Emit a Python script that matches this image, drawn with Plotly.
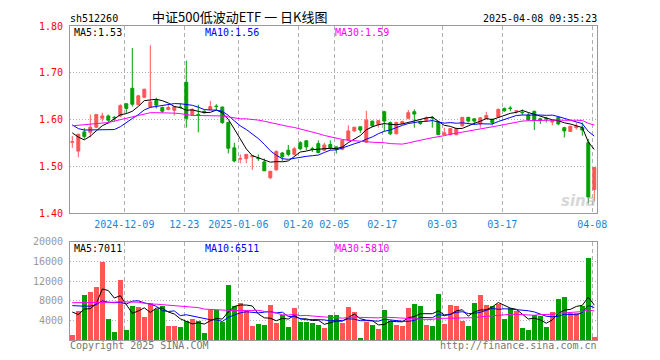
import plotly.graph_objects as go
import pandas as pd

# ---------------- data ----------------
dates = [
    "2024-11-26", "2024-11-27", "2024-11-28", "2024-11-29", "2024-12-02", "2024-12-03", "2024-12-04", "2024-12-05",
    "2024-12-06", "2024-12-09", "2024-12-10", "2024-12-11", "2024-12-12", "2024-12-13", "2024-12-16", "2024-12-17",
    "2024-12-18", "2024-12-19", "2024-12-20", "2024-12-23", "2024-12-24", "2024-12-25", "2024-12-26", "2024-12-27",
    "2024-12-30", "2024-12-31", "2025-01-02", "2025-01-03", "2025-01-06", "2025-01-07", "2025-01-08", "2025-01-09",
    "2025-01-10", "2025-01-13", "2025-01-14", "2025-01-15", "2025-01-16", "2025-01-17", "2025-01-20", "2025-01-21",
    "2025-01-22", "2025-01-23", "2025-01-24", "2025-01-27", "2025-02-05", "2025-02-06", "2025-02-07", "2025-02-10",
    "2025-02-11", "2025-02-12", "2025-02-13", "2025-02-14", "2025-02-17", "2025-02-18", "2025-02-19", "2025-02-20",
    "2025-02-21", "2025-02-24", "2025-02-25", "2025-02-26", "2025-02-27", "2025-02-28", "2025-03-03", "2025-03-04",
    "2025-03-05", "2025-03-06", "2025-03-07", "2025-03-10", "2025-03-11", "2025-03-12", "2025-03-13", "2025-03-14",
    "2025-03-17", "2025-03-18", "2025-03-19", "2025-03-20", "2025-03-21", "2025-03-24", "2025-03-25", "2025-03-26",
    "2025-03-27", "2025-03-28", "2025-03-31", "2025-04-01", "2025-04-02", "2025-04-03", "2025-04-07", "2025-04-08",
]

opens = [
    1.552, 1.533, 1.574, 1.573, 1.584, 1.603, 1.608, 1.605, 1.608, 1.634,
    1.667, 1.632, 1.648, 1.627, 1.641, 1.626, 1.622, 1.620, 1.627, 1.680,
    1.611, 1.611, 1.618, 1.622, 1.629, 1.627, 1.594, 1.540, 1.516, 1.517,
    1.521, 1.518, 1.510, 1.476, 1.493, 1.529, 1.535, 1.526, 1.551, 1.555,
    1.538, 1.549, 1.535, 1.547, 1.542, 1.537, 1.556, 1.576, 1.585, 1.552,
    1.597, 1.590, 1.617, 1.594, 1.570, 1.592, 1.603, 1.617, 1.596, 1.598,
    1.605, 1.595, 1.568, 1.568, 1.568, 1.587, 1.605, 1.602, 1.591, 1.602,
    1.601, 1.606, 1.624, 1.625, 1.618, 1.616, 1.610, 1.618, 1.602, 1.603,
    1.595, 1.605, 1.583, 1.575, 1.583, 1.583, 1.551, 1.451,
]
highs = [
    1.565, 1.569, 1.582, 1.611, 1.612, 1.615, 1.611, 1.608, 1.633, 1.635,
    1.753, 1.653, 1.666, 1.759, 1.647, 1.628, 1.631, 1.628, 1.635, 1.726,
    1.624, 1.632, 1.620, 1.640, 1.633, 1.628, 1.596, 1.551, 1.526, 1.526,
    1.524, 1.526, 1.517, 1.490, 1.535, 1.531, 1.546, 1.542, 1.554, 1.556,
    1.542, 1.556, 1.551, 1.556, 1.543, 1.557, 1.588, 1.585, 1.585, 1.619,
    1.598, 1.599, 1.619, 1.596, 1.596, 1.598, 1.621, 1.622, 1.598, 1.607,
    1.608, 1.597, 1.583, 1.582, 1.583, 1.605, 1.606, 1.602, 1.606, 1.617,
    1.602, 1.624, 1.626, 1.629, 1.619, 1.622, 1.616, 1.619, 1.604, 1.606,
    1.599, 1.606, 1.585, 1.587, 1.594, 1.594, 1.559, 1.499,
]
lows = [
    1.540, 1.520, 1.559, 1.562, 1.582, 1.596, 1.592, 1.596, 1.606, 1.613,
    1.628, 1.631, 1.646, 1.626, 1.624, 1.615, 1.620, 1.609, 1.624, 1.583,
    1.609, 1.573, 1.613, 1.620, 1.620, 1.591, 1.528, 1.509, 1.507, 1.507,
    1.493, 1.512, 1.490, 1.474, 1.491, 1.512, 1.522, 1.524, 1.535, 1.535,
    1.531, 1.528, 1.533, 1.536, 1.528, 1.535, 1.554, 1.574, 1.572, 1.551,
    1.584, 1.583, 1.575, 1.567, 1.569, 1.590, 1.601, 1.583, 1.589, 1.595,
    1.583, 1.567, 1.567, 1.567, 1.567, 1.585, 1.594, 1.589, 1.583, 1.601,
    1.588, 1.604, 1.617, 1.618, 1.613, 1.610, 1.598, 1.578, 1.591, 1.594,
    1.588, 1.588, 1.562, 1.574, 1.579, 1.566, 1.421, 1.426,
]
closes = [
    1.553, 1.569, 1.564, 1.584, 1.611, 1.608, 1.599, 1.604, 1.630, 1.624,
    1.633, 1.651, 1.665, 1.638, 1.631, 1.618, 1.626, 1.628, 1.626, 1.603,
    1.622, 1.610, 1.615, 1.628, 1.628, 1.594, 1.539, 1.512, 1.517, 1.526,
    1.523, 1.517, 1.491, 1.490, 1.532, 1.521, 1.526, 1.538, 1.538, 1.542,
    1.537, 1.530, 1.546, 1.540, 1.537, 1.556, 1.576, 1.584, 1.578, 1.599,
    1.587, 1.598, 1.597, 1.570, 1.594, 1.596, 1.615, 1.612, 1.592, 1.604,
    1.604, 1.568, 1.572, 1.581, 1.581, 1.605, 1.597, 1.597, 1.604, 1.609,
    1.594, 1.622, 1.619, 1.624, 1.619, 1.615, 1.600, 1.599, 1.599, 1.602,
    1.599, 1.591, 1.576, 1.586, 1.586, 1.578, 1.435, 1.498,
]
volumes = [
    1000, 6000, 9200, 9900, 10900, 16000, 4400, 1600, 12200, 2000,
    7000, 6800, 4800, 7500, 6400, 7000, 2800, 2800, 2600, 3800,
    4400, 4000, 1400, 6100, 6100, 3700, 11300, 7000, 7600, 6000,
    2800, 3200, 3000, 7200, 3400, 5200, 2600, 6600, 3600, 3600,
    3400, 3000, 2400, 5200, 5200, 3500, 6700, 5800, 500, 3700,
    3100, 2300, 6200, 4000, 3100, 2900, 6500, 7400, 6900, 3100,
    2900, 9400, 3300, 7200, 6900, 4000, 2900, 7600, 9100, 7200,
    6900, 7400, 4400, 6600, 6000, 2400, 2000, 5200, 4900, 2600,
    5800, 8400, 8800, 5600, 5600, 6900, 16800, 600,
]

# moving-average values for the first bars (their windows reach back before the visible range)
ma5_head = [1.572, 1.563, 1.557, 1.565]
ma10_head = [1.589, 1.581, 1.578, 1.578, 1.578, 1.578, 1.578, 1.579, 1.585]
ma30_head = [1.587, 1.588, 1.590, 1.591, 1.592, 1.593, 1.594, 1.597, 1.600, 1.603,
             1.607, 1.610, 1.613, 1.615, 1.615, 1.615, 1.615, 1.614, 1.613, 1.611,
             1.609, 1.609, 1.609, 1.609, 1.609, 1.608, 1.606, 1.604, 1.602]
vma5_head = [5700, 5200, 6300, 6400]
vma10_head = [7000, 6900, 6900, 6900, 7200, 8000, 7700, 7600, 7700]
vma30_head = [7600, 7600, 7650, 7700, 7700, 7700, 7700, 7700, 7800, 7800,
              7800, 7700, 7500, 7300, 7300, 7200, 7100, 6900, 6800, 6800,
              6700, 6600, 6300, 6200, 6100, 6100, 6050, 6000, 6000]

tick_labels = ["2024-12-09", "12-23", "2025-01-06", "01-20", "02-05", "02-17", "03-03", "03-17", "04-08"]
price_ticks = [1.40, 1.50, 1.60, 1.70, 1.80]
vol_ticks = [4000, 8000, 12000, 16000, 20000]

code = "sh512260"
title = "中证500低波动ETF 一 日K线图"
stamp = "2025-04-08 09:35:23"
ma_price_text = ["MA5:1.53", "MA10:1.56", "MA30:1.59"]
ma_vol_text = ["MA5:7011", "MA10:6511", "MA30:5810"]

# ---------------- helpers ----------------
def moving(values, n, head):
    s = pd.Series(values, dtype=float).rolling(n).mean().tolist()
    return list(head) + s[len(head):]

idx = list(range(len(dates)))
ma5 = moving(closes, 5, ma5_head)
ma10 = moving(closes, 10, ma10_head)
ma30 = moving(closes, 30, ma30_head)
vma5 = moving(volumes, 5, vma5_head)
vma10 = moving(volumes, 10, vma10_head)
vma30 = moving(volumes, 30, vma30_head)

RED = "#ff5555"
GREEN = "#00a000"
MONO = "DejaVu Sans Mono"
GRID = "#b0b0b0"
BORDER = "#999999"

# the page body adds an 8px offset; the figure is sized so that it fills the 660x360 window
OFF = 8
W, H = 660 - OFF, 360 - OFF
PLOT_L, PLOT_R, PLOT_T, PLOT_B = 70, 597, 20, 340   # plot box in window pixels
L, T = PLOT_L - OFF, PLOT_T - OFF
R, B = W - (PLOT_R - OFF), H - (PLOT_B - OFF)
PW, PH = W - L - R, H - T - B


def pxx(x):
    return (x - OFF - L) / PW


def pyy(y):
    return 1 - (y - OFF - T) / PH


# bar k centre sits at window pixel 72.3 + 6k
x_range = [(PLOT_L - 72.3) / 6, (PLOT_R - 72.3) / 6]
tick_pos = []
for lab in tick_labels:
    for i, d in enumerate(dates):
        if d.endswith(lab):
            tick_pos.append(i - 0.33)
            break

vol_colors = [RED if c >= o else GREEN for o, c in zip(opens, closes)]

fig = go.Figure()
fig.add_trace(go.Candlestick(
    x=idx, open=opens, high=highs, low=lows, close=closes,
    increasing=dict(line=dict(color=RED, width=1), fillcolor=RED),
    decreasing=dict(line=dict(color=GREEN, width=1), fillcolor=GREEN),
    whiskerwidth=0, xaxis="x", yaxis="y", hoverinfo="skip", showlegend=False,
))
for vals, col in [(ma5, "#000000"), (ma10, "#0000ff"), (ma30, "#ff00ff")]:
    fig.add_trace(go.Scatter(x=idx, y=vals, mode="lines", line=dict(color=col, width=1),
                             xaxis="x", yaxis="y", hoverinfo="skip", showlegend=False))

fig.add_trace(go.Bar(x=idx, y=volumes, marker=dict(color=vol_colors, line=dict(width=0)),
                     width=0.8, xaxis="x2", yaxis="y2", hoverinfo="skip", showlegend=False))
for vals, col in [(vma5, "#000000"), (vma10, "#0000ff"), (vma30, "#ff00ff")]:
    fig.add_trace(go.Scatter(x=idx, y=vals, mode="lines", line=dict(color=col, width=1),
                             xaxis="x2", yaxis="y2", hoverinfo="skip", showlegend=False))

xcommon = dict(range=x_range, showgrid=True, gridcolor=GRID, griddash="4px,3px", gridwidth=1,
               tickvals=tick_pos, zeroline=False, showline=True, mirror=True,
               linecolor=BORDER, linewidth=1, ticks="", fixedrange=True)

fig.update_layout(
    width=W, height=H,
    margin=dict(l=L, r=R, t=T, b=B, pad=0),
    paper_bgcolor="white", plot_bgcolor="white",
    showlegend=False, hovermode=False, bargap=0,
    xaxis=dict(**xcommon, domain=[0, 1], anchor="y", ticktext=tick_labels,
               tickfont=dict(family=MONO, size=10, color="#1a86d8"),
               rangeslider=dict(visible=False), ticklabelstandoff=2),
    xaxis2=dict(**xcommon, domain=[0, 1], anchor="y2", matches="x", showticklabels=False),
    yaxis=dict(domain=[pyy(211), pyy(20)], range=[1.40, 1.80], tickvals=price_ticks,
               ticktext=[f"{v:.2f}" for v in price_ticks],
               tickfont=dict(family=MONO, size=10, color="#ff0000"),
               showgrid=True, gridcolor=GRID, griddash="1px,2px", zeroline=False,
               showline=True, mirror=True, linecolor=BORDER, linewidth=1, ticks="",
               ticklabelstandoff=4, fixedrange=True),
    yaxis2=dict(domain=[pyy(340), pyy(240)], range=[0, 20000], tickvals=vol_ticks,
                ticktext=[str(v) for v in vol_ticks],
                tickfont=dict(family=MONO, size=10, color="#999999"),
                showgrid=True, gridcolor=GRID, griddash="1px,2px", zeroline=False,
                showline=True, mirror=True, linecolor=BORDER, linewidth=1, ticks="",
                ticklabelstandoff=4, fixedrange=True),
)

ann = []


def txt(text, x, y, anchor, color="#000000", size=10, family=MONO):
    ann.append(dict(text=text, x=pxx(x), y=pyy(y), xref="paper", yref="paper",
                    xanchor=anchor, yanchor="middle", showarrow=False,
                    font=dict(family=family, size=size, color=color), borderpad=0))


txt(code, 69, 12.5, "left")
txt(title, 240, 10.5, "center", size=13, family="Noto Sans CJK SC")
txt(stamp, 598, 12.5, "right")
for t_, x_, c_ in zip(ma_price_text, [73, 204, 334], ["#000000", "#0000ff", "#ff00ff"]):
    txt(t_, x_, 27, "left", color=c_)
for t_, x_, c_ in zip(ma_vol_text, [73, 204, 334], ["#000000", "#0000ff", "#ff00ff"]):
    txt(t_, x_, 247, "left", color=c_)
txt("Copyright 2025 SINA.COM", 69, 346, "left", color="#777777")
txt("http://finance.sina.com.cn", 598, 346, "right", color="#777777")
ann.append(dict(text="<b><i>sina</i></b>", x=pxx(578), y=pyy(198), xref="paper", yref="paper",
                xanchor="center", yanchor="middle", showarrow=False,
                font=dict(family="DejaVu Sans", size=15, color="rgba(180,180,180,0.55)")))
fig.update_layout(annotations=ann)

fig.write_html("out.html")
